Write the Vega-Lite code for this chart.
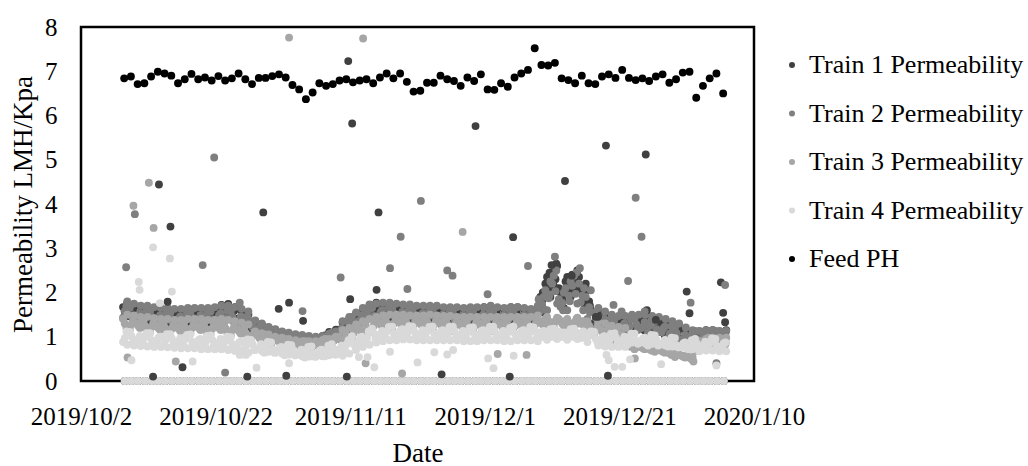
{
"$schema":"https://vega.github.io/schema/vega-lite/v6.json",
"width":673,"height":354,
"autosize":{"type":"none"},
"padding":{"left":81,"top":27,"right":274,"bottom":85},
"background":"white",
"config":{
"view":{"stroke":"#000","strokeWidth":2.5},
"axis":{"domain":false,"ticks":false,"grid":false,"labelFont":"Liberation Serif","labelFontSize":25,"labelColor":"#000","titleFont":"Liberation Serif","titleFontSize":27,"titleFontWeight":"normal","titleColor":"#000"},
"axisX":{"labelPadding":23,"titlePadding":11},
"axisY":{"labelPadding":24,"titlePadding":7},
"legend":{"orient":"none","legendX":698,"legendY":25,"labelFont":"Liberation Serif","labelFontSize":26,"labelColor":"#000","labelLimit":0,"symbolType":"circle","symbolSize":36,"rowPadding":22.5,"labelOffset":4,"padding":0,"symbolStrokeWidth":0}
},
"datasets":{
"perm":[
{"t":"2019-10-08T06:00","a":1.67,"b":1.43,"c":1.40,"d":0.88},{"t":"2019-10-08T18:00","a":1.49,"b":1.69,"c":1.20,"d":1.12},
{"t":"2019-10-09T06:00","a":1.46,"b":1.65,"c":1.16,"d":1.11},{"t":"2019-10-09T18:00","a":1.64,"b":1.40,"c":1.36,"d":0.88},
{"t":"2019-10-10T06:00","a":1.51,"b":1.40,"c":1.30,"d":0.92},{"t":"2019-10-10T18:00","a":1.37,"b":1.53,"c":1.20,"d":1.02},
{"t":"2019-10-11T06:00","a":1.57,"b":1.33,"c":1.35,"d":0.84},{"t":"2019-10-11T18:00","a":1.39,"b":1.59,"c":1.15,"d":1.08},
{"t":"2019-10-12T06:00","a":1.36,"b":1.57,"c":1.10,"d":1.08},{"t":"2019-10-12T18:00","a":1.54,"b":1.32,"c":1.30,"d":0.85},
{"t":"2019-10-13T06:00","a":1.41,"b":1.35,"c":1.25,"d":0.90},{"t":"2019-10-13T18:00","a":1.27,"b":1.48,"c":1.15,"d":1.00},
{"t":"2019-10-14T06:00","a":1.47,"b":1.28,"c":1.30,"d":0.82},{"t":"2019-10-14T18:00","a":1.29,"b":1.54,"c":1.10,"d":1.06},
{"t":"2019-10-15T06:00","a":1.31,"b":1.53,"c":1.06,"d":1.06},{"t":"2019-10-15T18:00","a":1.49,"b":1.28,"c":1.26,"d":0.83},
{"t":"2019-10-16T06:00","a":1.44,"b":1.33,"c":1.23,"d":0.87},{"t":"2019-10-16T18:00","a":1.30,"b":1.46,"c":1.13,"d":0.97},
{"t":"2019-10-17T06:00","a":1.50,"b":1.28,"c":1.30,"d":0.80},{"t":"2019-10-17T18:00","a":1.32,"b":1.54,"c":1.10,"d":1.04},
{"t":"2019-10-18T06:00","a":1.36,"b":1.55,"c":1.08,"d":1.05},{"t":"2019-10-18T18:00","a":1.54,"b":1.30,"c":1.28,"d":0.82},
{"t":"2019-10-19T06:00","a":1.46,"b":1.35,"c":1.25,"d":0.85},{"t":"2019-10-19T18:00","a":1.32,"b":1.48,"c":1.15,"d":0.95},
{"t":"2019-10-20T06:00","a":1.50,"b":1.28,"c":1.28,"d":0.78},{"t":"2019-10-20T18:00","a":1.32,"b":1.54,"c":1.08,"d":1.02},
{"t":"2019-10-21T06:00","a":1.36,"b":1.57,"c":1.06,"d":1.03},{"t":"2019-10-21T18:00","a":1.54,"b":1.32,"c":1.26,"d":0.80},
{"t":"2019-10-22T06:00","a":1.56,"b":1.40,"c":1.25,"d":0.85},{"t":"2019-10-22T18:00","a":1.42,"b":1.53,"c":1.15,"d":0.95},
{"t":"2019-10-23T06:00","a":1.64,"b":1.33,"c":1.28,"d":0.76},{"t":"2019-10-23T18:00","a":1.46,"b":1.59,"c":1.08,"d":1.00},
{"t":"2019-10-24T06:00","a":1.41,"b":1.57,"c":1.03,"d":0.99},{"t":"2019-10-24T18:00","a":1.59,"b":1.32,"c":1.23,"d":0.76},
{"t":"2019-10-25T06:00","a":1.41,"b":1.33,"c":1.17,"d":0.79},{"t":"2019-10-25T18:00","a":1.27,"b":1.46,"c":1.07,"d":0.89},
{"t":"2019-10-26T06:00","a":1.40,"b":1.20,"c":1.18,"d":0.70},{"t":"2019-10-26T18:00","a":1.22,"b":1.46,"c":0.98,"d":0.94},
{"t":"2019-10-27T06:00","a":1.18,"b":1.34,"c":0.90,"d":0.93},{"t":"2019-10-27T18:00","a":1.29,"b":1.19,"c":1.10,"d":0.70},
{"t":"2019-10-28T06:00","a":1.16,"b":1.15,"c":1.03,"d":0.73},{"t":"2019-10-28T18:00","a":1.08,"b":1.23,"c":0.93,"d":0.83},
{"t":"2019-10-29T06:00","a":1.13,"b":1.03,"c":1.05,"d":0.64},{"t":"2019-10-29T18:00","a":1.02,"b":1.18,"c":0.85,"d":0.88},
{"t":"2019-10-30T06:00","a":0.98,"b":1.14,"c":0.78,"d":0.87},{"t":"2019-10-30T18:00","a":1.09,"b":0.99,"c":0.98,"d":0.64},
{"t":"2019-10-31T06:00","a":0.99,"b":0.97,"c":0.93,"d":0.67},{"t":"2019-10-31T18:00","a":0.91,"b":1.05,"c":0.83,"d":0.77},
{"t":"2019-11-01T06:00","a":0.98,"b":0.90,"c":0.95,"d":0.58},{"t":"2019-11-01T18:00","a":0.87,"b":1.05,"c":0.75,"d":0.82},
{"t":"2019-11-02T06:00","a":0.86,"b":1.03,"c":0.70,"d":0.81},{"t":"2019-11-02T18:00","a":0.97,"b":0.88,"c":0.90,"d":0.58},
{"t":"2019-11-03T06:00","a":0.89,"b":0.89,"c":0.85,"d":0.61},{"t":"2019-11-03T18:00","a":0.81,"b":0.97,"c":0.75,"d":0.71},
{"t":"2019-11-04T06:00","a":0.90,"b":0.83,"c":0.90,"d":0.53},{"t":"2019-11-04T18:00","a":0.79,"b":0.98,"c":0.70,"d":0.77},
{"t":"2019-11-05T06:00","a":0.78,"b":0.97,"c":0.68,"d":0.78},{"t":"2019-11-05T18:00","a":0.89,"b":0.82,"c":0.88,"d":0.55},
{"t":"2019-11-06T06:00","a":0.89,"b":0.87,"c":0.87,"d":0.61},{"t":"2019-11-06T18:00","a":0.81,"b":0.95,"c":0.77,"d":0.71},
{"t":"2019-11-07T06:00","a":1.03,"b":0.88,"c":0.95,"d":0.56},{"t":"2019-11-07T18:00","a":0.92,"b":1.03,"c":0.75,"d":0.80},
{"t":"2019-11-08T06:00","a":0.98,"b":1.09,"c":0.78,"d":0.83},{"t":"2019-11-08T18:00","a":1.09,"b":0.94,"c":0.98,"d":0.60},
{"t":"2019-11-09T06:00","a":1.16,"b":1.05,"c":1.00,"d":0.70},{"t":"2019-11-09T18:00","a":1.02,"b":1.18,"c":0.90,"d":0.80},
{"t":"2019-11-10T06:00","a":1.32,"b":1.08,"c":1.10,"d":0.68},{"t":"2019-11-10T18:00","a":1.14,"b":1.34,"c":0.90,"d":0.92},
{"t":"2019-11-11T06:00","a":1.26,"b":1.45,"c":0.96,"d":1.01},{"t":"2019-11-11T18:00","a":1.44,"b":1.20,"c":1.16,"d":0.78},
{"t":"2019-11-12T06:00","a":1.46,"b":1.35,"c":1.20,"d":0.90},{"t":"2019-11-12T18:00","a":1.32,"b":1.48,"c":1.10,"d":1.00},
{"t":"2019-11-13T06:00","a":1.62,"b":1.36,"c":1.30,"d":0.88},{"t":"2019-11-13T18:00","a":1.44,"b":1.62,"c":1.10,"d":1.12},
{"t":"2019-11-14T06:00","a":1.51,"b":1.65,"c":1.13,"d":1.18},{"t":"2019-11-14T18:00","a":1.69,"b":1.40,"c":1.33,"d":0.95},
{"t":"2019-11-15T06:00","a":1.56,"b":1.47,"c":1.33,"d":1.03},{"t":"2019-11-15T18:00","a":1.42,"b":1.60,"c":1.23,"d":1.13},
{"t":"2019-11-16T06:00","a":1.62,"b":1.40,"c":1.40,"d":0.98},{"t":"2019-11-16T18:00","a":1.44,"b":1.66,"c":1.20,"d":1.22},
{"t":"2019-11-17T06:00","a":1.44,"b":1.65,"c":1.18,"d":1.23},{"t":"2019-11-17T18:00","a":1.62,"b":1.40,"c":1.38,"d":1.00},
{"t":"2019-11-18T06:00","a":1.51,"b":1.43,"c":1.35,"d":1.07},{"t":"2019-11-18T18:00","a":1.37,"b":1.56,"c":1.25,"d":1.17},
{"t":"2019-11-19T06:00","a":1.57,"b":1.36,"c":1.38,"d":1.00},{"t":"2019-11-19T18:00","a":1.39,"b":1.62,"c":1.18,"d":1.24},
{"t":"2019-11-20T06:00","a":1.38,"b":1.60,"c":1.16,"d":1.23},{"t":"2019-11-20T18:00","a":1.56,"b":1.35,"c":1.36,"d":1.00},
{"t":"2019-11-21T06:00","a":1.48,"b":1.40,"c":1.33,"d":1.05},{"t":"2019-11-21T18:00","a":1.34,"b":1.53,"c":1.23,"d":1.15},
{"t":"2019-11-22T06:00","a":1.57,"b":1.33,"c":1.40,"d":0.98},{"t":"2019-11-22T18:00","a":1.39,"b":1.59,"c":1.20,"d":1.22},
{"t":"2019-11-23T06:00","a":1.36,"b":1.60,"c":1.16,"d":1.23},{"t":"2019-11-23T18:00","a":1.54,"b":1.35,"c":1.36,"d":1.00},
{"t":"2019-11-24T06:00","a":1.46,"b":1.37,"c":1.32,"d":1.05},{"t":"2019-11-24T18:00","a":1.32,"b":1.50,"c":1.22,"d":1.15},
{"t":"2019-11-25T06:00","a":1.54,"b":1.30,"c":1.37,"d":0.98},{"t":"2019-11-25T18:00","a":1.36,"b":1.56,"c":1.17,"d":1.22},
{"t":"2019-11-26T06:00","a":1.36,"b":1.57,"c":1.13,"d":1.23},{"t":"2019-11-26T18:00","a":1.54,"b":1.32,"c":1.33,"d":1.00},
{"t":"2019-11-27T06:00","a":1.46,"b":1.35,"c":1.30,"d":1.03},{"t":"2019-11-27T18:00","a":1.32,"b":1.48,"c":1.20,"d":1.13},
{"t":"2019-11-28T06:00","a":1.50,"b":1.30,"c":1.35,"d":0.96},{"t":"2019-11-28T18:00","a":1.32,"b":1.56,"c":1.15,"d":1.20},
{"t":"2019-11-29T06:00","a":1.36,"b":1.57,"c":1.13,"d":1.21},{"t":"2019-11-29T18:00","a":1.54,"b":1.32,"c":1.33,"d":0.98},
{"t":"2019-11-30T06:00","a":1.51,"b":1.37,"c":1.30,"d":1.05},{"t":"2019-11-30T18:00","a":1.37,"b":1.50,"c":1.20,"d":1.15},
{"t":"2019-12-01T06:00","a":1.57,"b":1.33,"c":1.35,"d":0.98},{"t":"2019-12-01T18:00","a":1.39,"b":1.59,"c":1.15,"d":1.22},
{"t":"2019-12-02T06:00","a":1.38,"b":1.57,"c":1.13,"d":1.23},{"t":"2019-12-02T18:00","a":1.56,"b":1.32,"c":1.33,"d":1.00},
{"t":"2019-12-03T06:00","a":1.46,"b":1.35,"c":1.30,"d":1.03},{"t":"2019-12-03T18:00","a":1.32,"b":1.48,"c":1.20,"d":1.13},
{"t":"2019-12-04T06:00","a":1.57,"b":1.30,"c":1.35,"d":0.96},{"t":"2019-12-04T18:00","a":1.39,"b":1.56,"c":1.15,"d":1.20},
{"t":"2019-12-05T06:00","a":1.41,"b":1.57,"c":1.13,"d":1.23},{"t":"2019-12-05T18:00","a":1.59,"b":1.32,"c":1.33,"d":1.00},
{"t":"2019-12-06T06:00","a":1.46,"b":1.35,"c":1.30,"d":1.05},{"t":"2019-12-06T18:00","a":1.32,"b":1.48,"c":1.20,"d":1.15},
{"t":"2019-12-07T06:00","a":1.47,"b":1.26,"c":1.35,"d":0.98},{"t":"2019-12-07T18:00","a":1.29,"b":1.52,"c":1.15,"d":1.22},
{"t":"2019-12-08T06:00","a":1.41,"b":1.60,"c":1.16,"d":1.21},{"t":"2019-12-08T18:00","a":1.59,"b":1.35,"c":1.36,"d":0.98},
{"t":"2019-12-09T06:00","a":1.90,"b":1.58,"c":1.35,"d":1.03},{"t":"2019-12-09T18:00","a":1.55,"b":1.90,"c":1.25,"d":1.13},
{"t":"2019-12-10T06:00","a":2.35,"b":1.60,"c":1.45,"d":0.93},{"t":"2019-12-10T18:00","a":1.90,"b":2.25,"c":1.25,"d":1.17},
{"t":"2019-12-11T06:00","a":2.15,"b":2.38,"c":1.23,"d":1.18},{"t":"2019-12-11T18:00","a":2.60,"b":1.75,"c":1.43,"d":0.95},
{"t":"2019-12-12T06:00","a":2.00,"b":1.68,"c":1.35,"d":1.00},{"t":"2019-12-12T18:00","a":1.65,"b":2.00,"c":1.25,"d":1.10},
{"t":"2019-12-13T06:00","a":2.35,"b":1.60,"c":1.40,"d":0.93},{"t":"2019-12-13T18:00","a":1.90,"b":2.25,"c":1.20,"d":1.17},
{"t":"2019-12-14T06:00","a":2.05,"b":2.38,"c":1.23,"d":1.18},{"t":"2019-12-14T18:00","a":2.50,"b":1.75,"c":1.43,"d":0.95},
{"t":"2019-12-15T06:00","a":2.10,"b":1.78,"c":1.35,"d":0.97},{"t":"2019-12-15T18:00","a":1.75,"b":2.10,"c":1.25,"d":1.07},
{"t":"2019-12-16T06:00","a":2.05,"b":1.40,"c":1.35,"d":0.88},{"t":"2019-12-16T18:00","a":1.60,"b":2.05,"c":1.15,"d":1.12},
{"t":"2019-12-17T06:00","a":1.31,"b":1.55,"c":1.03,"d":1.11},{"t":"2019-12-17T18:00","a":1.49,"b":1.30,"c":1.23,"d":0.88},
{"t":"2019-12-18T06:00","a":1.36,"b":1.27,"c":1.15,"d":0.91},{"t":"2019-12-18T18:00","a":1.22,"b":1.40,"c":1.05,"d":1.01},
{"t":"2019-12-19T06:00","a":1.32,"b":1.13,"c":1.15,"d":0.83},{"t":"2019-12-19T18:00","a":1.14,"b":1.39,"c":0.95,"d":1.07},
{"t":"2019-12-20T06:00","a":1.16,"b":1.37,"c":0.90,"d":1.08},{"t":"2019-12-20T18:00","a":1.34,"b":1.12,"c":1.10,"d":0.85},
{"t":"2019-12-21T06:00","a":1.24,"b":1.17,"c":1.05,"d":0.90},{"t":"2019-12-21T18:00","a":1.10,"b":1.30,"c":0.95,"d":1.00},
{"t":"2019-12-22T06:00","a":1.32,"b":1.13,"c":0.83,"d":0.83},{"t":"2019-12-22T18:00","a":1.14,"b":1.39,"c":0.77,"d":1.07},
{"t":"2019-12-23T06:00","a":1.16,"b":1.40,"c":0.72,"d":1.07},{"t":"2019-12-23T18:00","a":1.34,"b":1.15,"c":0.78,"d":0.84},
{"t":"2019-12-24T06:00","a":1.28,"b":1.20,"c":0.76,"d":0.88},{"t":"2019-12-24T18:00","a":1.14,"b":1.33,"c":0.72,"d":0.98},
{"t":"2019-12-25T06:00","a":1.32,"b":1.10,"c":0.75,"d":0.80},{"t":"2019-12-25T18:00","a":1.14,"b":1.36,"c":0.69,"d":1.04},
{"t":"2019-12-26T06:00","a":1.11,"b":1.35,"c":0.66,"d":1.03},{"t":"2019-12-26T18:00","a":1.29,"b":1.10,"c":0.72,"d":0.80},
{"t":"2019-12-27T06:00","a":1.16,"b":1.10,"c":0.68,"d":0.83},{"t":"2019-12-27T18:00","a":1.02,"b":1.23,"c":0.64,"d":0.93},
{"t":"2019-12-28T06:00","a":1.17,"b":0.98,"c":0.65,"d":0.78},{"t":"2019-12-28T18:00","a":0.99,"b":1.24,"c":0.59,"d":0.98},
{"t":"2019-12-29T06:00","a":0.96,"b":1.20,"c":0.54,"d":0.97},{"t":"2019-12-29T18:00","a":1.14,"b":0.95,"c":0.60,"d":0.76},
{"t":"2019-12-30T06:00","a":0.96,"b":0.91,"c":0.57,"d":0.77},{"t":"2019-12-30T18:00","a":0.82,"b":1.04,"c":0.53,"d":0.87},
{"t":"2019-12-31T06:00","a":0.97,"b":0.78,"c":0.55,"d":0.72},{"t":"2019-12-31T18:00","a":0.79,"b":1.04,"c":0.49,"d":0.92},
{"t":"2020-01-01T06:00","a":0.88,"b":1.13,"c":0.68,"d":0.95},{"t":"2020-01-01T18:00","a":1.06,"b":0.88,"c":0.88,"d":0.72},
{"t":"2020-01-02T06:00","a":1.01,"b":0.95,"c":0.90,"d":0.79},{"t":"2020-01-02T18:00","a":0.87,"b":1.08,"c":0.80,"d":0.89},
{"t":"2020-01-03T06:00","a":1.07,"b":0.88,"c":0.98,"d":0.72},{"t":"2020-01-03T18:00","a":0.89,"b":1.14,"c":0.78,"d":0.96},
{"t":"2020-01-04T06:00","a":0.88,"b":1.13,"c":0.76,"d":0.95},{"t":"2020-01-04T18:00","a":1.06,"b":0.88,"c":0.96,"d":0.72},
{"t":"2020-01-05T06:00","a":1.01,"b":0.93,"c":0.93,"d":0.77},{"t":"2020-01-05T18:00","a":0.87,"b":1.06,"c":0.83,"d":0.87},
{"t":"2019-10-08T12:00","a":1.57,"b":1.58,"c":1.30,"d":0.97},{"t":"2019-10-09T12:00","a":1.52,"b":1.47,"c":1.28,"d":1.01},{"t":"2019-10-10T12:00","a":1.47,"b":1.48,"c":1.25,"d":0.94},{"t":"2019-10-11T12:00","a":1.47,"b":1.42,"c":1.25,"d":0.99},{"t":"2019-10-12T12:00","a":1.42,"b":1.45,"c":1.22,"d":0.92},
{"t":"2019-10-13T12:00","a":1.37,"b":1.37,"c":1.20,"d":0.98},{"t":"2019-10-14T12:00","a":1.37,"b":1.43,"c":1.20,"d":0.91},{"t":"2019-10-15T12:00","a":1.37,"b":1.35,"c":1.18,"d":0.96},{"t":"2019-10-16T12:00","a":1.40,"b":1.41,"c":1.18,"d":0.89},{"t":"2019-10-17T12:00","a":1.40,"b":1.37,"c":1.20,"d":0.95},
{"t":"2019-10-18T12:00","a":1.42,"b":1.43,"c":1.20,"d":0.89},{"t":"2019-10-19T12:00","a":1.42,"b":1.37,"c":1.20,"d":0.93},{"t":"2019-10-20T12:00","a":1.40,"b":1.43,"c":1.18,"d":0.87},{"t":"2019-10-21T12:00","a":1.42,"b":1.39,"c":1.18,"d":0.93},{"t":"2019-10-22T12:00","a":1.52,"b":1.48,"c":1.20,"d":0.87},
{"t":"2019-10-23T12:00","a":1.54,"b":1.42,"c":1.18,"d":0.91},{"t":"2019-10-24T12:00","a":1.47,"b":1.45,"c":1.15,"d":0.83},{"t":"2019-10-25T12:00","a":1.37,"b":1.35,"c":1.12,"d":0.87},{"t":"2019-10-26T12:00","a":1.30,"b":1.35,"c":1.08,"d":0.79},{"t":"2019-10-27T12:00","a":1.22,"b":1.22,"c":1.02,"d":0.83},
{"t":"2019-10-28T12:00","a":1.14,"b":1.21,"c":0.98,"d":0.75},{"t":"2019-10-29T12:00","a":1.07,"b":1.07,"c":0.95,"d":0.79},{"t":"2019-10-30T12:00","a":1.02,"b":1.08,"c":0.90,"d":0.71},{"t":"2019-10-31T12:00","a":0.97,"b":0.97,"c":0.88,"d":0.75},{"t":"2019-11-01T12:00","a":0.92,"b":1.00,"c":0.85,"d":0.67},
{"t":"2019-11-02T12:00","a":0.90,"b":0.91,"c":0.82,"d":0.71},{"t":"2019-11-03T12:00","a":0.87,"b":0.95,"c":0.80,"d":0.63},{"t":"2019-11-04T12:00","a":0.84,"b":0.87,"c":0.80,"d":0.68},{"t":"2019-11-05T12:00","a":0.82,"b":0.91,"c":0.80,"d":0.62},{"t":"2019-11-06T12:00","a":0.87,"b":0.87,"c":0.82,"d":0.69},
{"t":"2019-11-07T12:00","a":0.97,"b":0.98,"c":0.85,"d":0.65},{"t":"2019-11-08T12:00","a":1.02,"b":0.97,"c":0.90,"d":0.73},{"t":"2019-11-09T12:00","a":1.12,"b":1.13,"c":0.95,"d":0.72},{"t":"2019-11-10T12:00","a":1.22,"b":1.17,"c":1.00,"d":0.83},{"t":"2019-11-11T12:00","a":1.32,"b":1.33,"c":1.08,"d":0.85},
{"t":"2019-11-12T12:00","a":1.42,"b":1.37,"c":1.15,"d":0.98},{"t":"2019-11-13T12:00","a":1.52,"b":1.51,"c":1.20,"d":0.97},{"t":"2019-11-14T12:00","a":1.57,"b":1.47,"c":1.25,"d":1.08},{"t":"2019-11-15T12:00","a":1.52,"b":1.55,"c":1.28,"d":1.05},{"t":"2019-11-16T12:00","a":1.52,"b":1.49,"c":1.30,"d":1.13},
{"t":"2019-11-17T12:00","a":1.50,"b":1.53,"c":1.30,"d":1.07},{"t":"2019-11-18T12:00","a":1.47,"b":1.45,"c":1.30,"d":1.15},{"t":"2019-11-19T12:00","a":1.47,"b":1.51,"c":1.28,"d":1.09},{"t":"2019-11-20T12:00","a":1.44,"b":1.42,"c":1.28,"d":1.13},{"t":"2019-11-21T12:00","a":1.44,"b":1.48,"c":1.28,"d":1.07},
{"t":"2019-11-22T12:00","a":1.47,"b":1.42,"c":1.30,"d":1.13},{"t":"2019-11-23T12:00","a":1.42,"b":1.48,"c":1.28,"d":1.07},{"t":"2019-11-24T12:00","a":1.42,"b":1.39,"c":1.27,"d":1.13},{"t":"2019-11-25T12:00","a":1.44,"b":1.45,"c":1.27,"d":1.07},{"t":"2019-11-26T12:00","a":1.42,"b":1.39,"c":1.25,"d":1.13},
{"t":"2019-11-27T12:00","a":1.42,"b":1.43,"c":1.25,"d":1.05},{"t":"2019-11-28T12:00","a":1.40,"b":1.39,"c":1.25,"d":1.11},{"t":"2019-11-29T12:00","a":1.42,"b":1.45,"c":1.25,"d":1.05},{"t":"2019-11-30T12:00","a":1.47,"b":1.39,"c":1.25,"d":1.13},{"t":"2019-12-01T12:00","a":1.47,"b":1.48,"c":1.25,"d":1.07},
{"t":"2019-12-02T12:00","a":1.44,"b":1.39,"c":1.25,"d":1.13},{"t":"2019-12-03T12:00","a":1.42,"b":1.43,"c":1.25,"d":1.05},{"t":"2019-12-04T12:00","a":1.47,"b":1.39,"c":1.25,"d":1.11},{"t":"2019-12-05T12:00","a":1.47,"b":1.45,"c":1.25,"d":1.07},{"t":"2019-12-06T12:00","a":1.42,"b":1.37,"c":1.25,"d":1.13},
{"t":"2019-12-07T12:00","a":1.37,"b":1.41,"c":1.25,"d":1.07},{"t":"2019-12-08T12:00","a":1.47,"b":1.42,"c":1.28,"d":1.11},{"t":"2019-12-09T12:00","a":1.80,"b":1.73,"c":1.30,"d":1.05},{"t":"2019-12-10T12:00","a":2.10,"b":1.87,"c":1.35,"d":1.08},{"t":"2019-12-11T12:00","a":2.30,"b":2.03,"c":1.35,"d":1.02},
{"t":"2019-12-12T12:00","a":1.90,"b":1.77,"c":1.30,"d":1.08},{"t":"2019-12-13T12:00","a":2.10,"b":1.93,"c":1.30,"d":1.02},{"t":"2019-12-14T12:00","a":2.20,"b":1.97,"c":1.35,"d":1.08},{"t":"2019-12-15T12:00","a":2.00,"b":1.93,"c":1.30,"d":0.99},{"t":"2019-12-16T12:00","a":1.80,"b":1.67,"c":1.25,"d":1.03},
{"t":"2019-12-17T12:00","a":1.37,"b":1.43,"c":1.15,"d":0.95},{"t":"2019-12-18T12:00","a":1.32,"b":1.29,"c":1.10,"d":0.99},{"t":"2019-12-19T12:00","a":1.22,"b":1.28,"c":1.05,"d":0.92},{"t":"2019-12-20T12:00","a":1.22,"b":1.19,"c":1.02,"d":0.98},{"t":"2019-12-21T12:00","a":1.20,"b":1.25,"c":1.00,"d":0.92},
{"t":"2019-12-22T12:00","a":1.22,"b":1.22,"c":0.80,"d":0.98},{"t":"2019-12-23T12:00","a":1.22,"b":1.28,"c":0.76,"d":0.91},{"t":"2019-12-24T12:00","a":1.24,"b":1.22,"c":0.74,"d":0.96},{"t":"2019-12-25T12:00","a":1.22,"b":1.25,"c":0.72,"d":0.89},{"t":"2019-12-26T12:00","a":1.17,"b":1.17,"c":0.70,"d":0.93},
{"t":"2019-12-27T12:00","a":1.12,"b":1.18,"c":0.66,"d":0.85},{"t":"2019-12-28T12:00","a":1.07,"b":1.07,"c":0.62,"d":0.89},{"t":"2019-12-29T12:00","a":1.02,"b":1.08,"c":0.58,"d":0.81},{"t":"2019-12-30T12:00","a":0.92,"b":0.93,"c":0.55,"d":0.85},{"t":"2019-12-31T12:00","a":0.87,"b":0.93,"c":0.52,"d":0.77},
{"t":"2020-01-01T12:00","a":0.94,"b":0.95,"c":0.80,"d":0.85},{"t":"2020-01-02T12:00","a":0.97,"b":1.03,"c":0.85,"d":0.81},{"t":"2020-01-03T12:00","a":0.97,"b":0.97,"c":0.88,"d":0.87},{"t":"2020-01-04T12:00","a":0.94,"b":1.01,"c":0.88,"d":0.79},{"t":"2020-01-05T12:00","a":0.97,"b":0.95,"c":0.88,"d":0.85},
{"t":"2019-10-08T21:00","a":1.77,"b":1.80,"c":1.50,"d":0.82},{"t":"2019-10-09T21:00","a":1.72,"b":1.75,"c":1.48,"d":0.80},{"t":"2019-10-10T21:00","a":1.67,"b":1.70,"c":1.45,"d":0.79},{"t":"2019-10-11T21:00","a":1.67,"b":1.70,"c":1.45,"d":0.78},{"t":"2019-10-12T21:00","a":1.62,"b":1.67,"c":1.42,"d":0.77},
{"t":"2019-10-13T21:00","a":1.57,"b":1.65,"c":1.40,"d":0.77},{"t":"2019-10-14T21:00","a":1.57,"b":1.65,"c":1.40,"d":0.76},{"t":"2019-10-15T21:00","a":1.57,"b":1.63,"c":1.38,"d":0.75},{"t":"2019-10-16T21:00","a":1.60,"b":1.63,"c":1.38,"d":0.74},{"t":"2019-10-17T21:00","a":1.60,"b":1.65,"c":1.40,"d":0.74},
{"t":"2019-10-18T21:00","a":1.62,"b":1.65,"c":1.40,"d":0.74},{"t":"2019-10-19T21:00","a":1.62,"b":1.65,"c":1.40,"d":0.72},{"t":"2019-10-20T21:00","a":1.60,"b":1.65,"c":1.38,"d":0.72},{"t":"2019-10-21T21:00","a":1.62,"b":1.67,"c":1.38,"d":0.72},{"t":"2019-10-22T21:00","a":1.72,"b":1.70,"c":1.40,"d":0.72},
{"t":"2019-10-23T21:00","a":1.74,"b":1.70,"c":1.38,"d":0.70},{"t":"2019-10-24T21:00","a":1.67,"b":1.67,"c":1.35,"d":0.68},{"t":"2019-10-25T21:00","a":1.57,"b":1.63,"c":1.32,"d":0.66},{"t":"2019-10-26T21:00","a":1.50,"b":1.57,"c":1.28,"d":0.64},{"t":"2019-10-27T21:00","a":1.36,"b":1.37,"c":1.12,"d":0.70},
{"t":"2019-10-28T21:00","a":1.28,"b":1.30,"c":1.08,"d":0.68},{"t":"2019-10-29T21:00","a":1.21,"b":1.22,"c":1.05,"d":0.66},{"t":"2019-10-30T21:00","a":1.16,"b":1.17,"c":1.00,"d":0.64},{"t":"2019-10-31T21:00","a":1.11,"b":1.12,"c":0.98,"d":0.62},{"t":"2019-11-01T21:00","a":1.06,"b":1.09,"c":0.95,"d":0.60},
{"t":"2019-11-02T21:00","a":1.04,"b":1.06,"c":0.92,"d":0.58},{"t":"2019-11-03T21:00","a":1.01,"b":1.04,"c":0.90,"d":0.56},{"t":"2019-11-04T21:00","a":0.98,"b":1.02,"c":0.90,"d":0.55},{"t":"2019-11-05T21:00","a":0.96,"b":1.00,"c":0.90,"d":0.55},{"t":"2019-11-06T21:00","a":1.01,"b":1.02,"c":0.92,"d":0.56},
{"t":"2019-11-07T21:00","a":1.11,"b":1.07,"c":0.95,"d":0.58},{"t":"2019-11-08T21:00","a":1.16,"b":1.12,"c":1.00,"d":0.60},{"t":"2019-11-09T21:00","a":1.32,"b":1.35,"c":1.15,"d":0.57},{"t":"2019-11-10T21:00","a":1.42,"b":1.45,"c":1.20,"d":0.62},{"t":"2019-11-11T21:00","a":1.52,"b":1.55,"c":1.28,"d":0.70},
{"t":"2019-11-12T21:00","a":1.62,"b":1.65,"c":1.35,"d":0.77},{"t":"2019-11-13T21:00","a":1.72,"b":1.73,"c":1.40,"d":0.82},{"t":"2019-11-14T21:00","a":1.77,"b":1.75,"c":1.45,"d":0.87},{"t":"2019-11-15T21:00","a":1.72,"b":1.77,"c":1.48,"d":0.90},{"t":"2019-11-16T21:00","a":1.72,"b":1.77,"c":1.50,"d":0.92},
{"t":"2019-11-17T21:00","a":1.70,"b":1.75,"c":1.50,"d":0.92},{"t":"2019-11-18T21:00","a":1.67,"b":1.73,"c":1.50,"d":0.94},{"t":"2019-11-19T21:00","a":1.67,"b":1.73,"c":1.48,"d":0.94},{"t":"2019-11-20T21:00","a":1.64,"b":1.70,"c":1.48,"d":0.92},{"t":"2019-11-21T21:00","a":1.64,"b":1.70,"c":1.48,"d":0.92},
{"t":"2019-11-22T21:00","a":1.67,"b":1.70,"c":1.50,"d":0.92},{"t":"2019-11-23T21:00","a":1.62,"b":1.70,"c":1.48,"d":0.92},{"t":"2019-11-24T21:00","a":1.62,"b":1.67,"c":1.47,"d":0.92},{"t":"2019-11-25T21:00","a":1.64,"b":1.67,"c":1.47,"d":0.92},{"t":"2019-11-26T21:00","a":1.62,"b":1.67,"c":1.45,"d":0.92},
{"t":"2019-11-27T21:00","a":1.62,"b":1.65,"c":1.45,"d":0.90},{"t":"2019-11-28T21:00","a":1.60,"b":1.67,"c":1.45,"d":0.90},{"t":"2019-11-29T21:00","a":1.62,"b":1.67,"c":1.45,"d":0.90},{"t":"2019-11-30T21:00","a":1.67,"b":1.67,"c":1.45,"d":0.92},{"t":"2019-12-01T21:00","a":1.67,"b":1.70,"c":1.45,"d":0.92},
{"t":"2019-12-02T21:00","a":1.64,"b":1.67,"c":1.45,"d":0.92},{"t":"2019-12-03T21:00","a":1.62,"b":1.65,"c":1.45,"d":0.90},{"t":"2019-12-04T21:00","a":1.67,"b":1.67,"c":1.45,"d":0.90},{"t":"2019-12-05T21:00","a":1.67,"b":1.67,"c":1.45,"d":0.92},{"t":"2019-12-06T21:00","a":1.62,"b":1.65,"c":1.45,"d":0.92},
{"t":"2019-12-07T21:00","a":1.57,"b":1.63,"c":1.45,"d":0.92},{"t":"2019-12-08T21:00","a":1.67,"b":1.70,"c":1.48,"d":0.90},
{"t":"2019-12-09T00:00","a":1.70,"b":1.85,"c":1.32,"d":1.10},{"t":"2019-12-09T15:00","a":2.00,"b":1.65,"c":1.28,"d":1.00},{"t":"2019-12-10T00:00","a":2.20,"b":2.05,"c":1.40,"d":1.05},{"t":"2019-12-10T15:00","a":2.45,"b":1.95,"c":1.30,"d":1.12},
{"t":"2019-12-11T00:00","a":2.45,"b":2.20,"c":1.30,"d":1.00},{"t":"2019-12-11T15:00","a":2.65,"b":2.50,"c":1.38,"d":1.10},{"t":"2019-12-12T00:00","a":2.10,"b":1.85,"c":1.40,"d":1.12},{"t":"2019-12-12T15:00","a":1.80,"b":1.60,"c":1.28,"d":1.00},
{"t":"2019-12-13T00:00","a":2.25,"b":2.10,"c":1.35,"d":1.05},{"t":"2019-12-13T15:00","a":2.05,"b":1.80,"c":1.30,"d":1.12},{"t":"2019-12-14T00:00","a":2.40,"b":2.15,"c":1.30,"d":1.00},{"t":"2019-12-14T15:00","a":2.25,"b":2.45,"c":1.40,"d":1.10},
{"t":"2019-12-15T00:00","a":2.35,"b":2.20,"c":1.30,"d":1.05},{"t":"2019-12-15T15:00","a":1.95,"b":1.60,"c":1.35,"d":1.12},{"t":"2019-12-16T00:00","a":2.20,"b":1.90,"c":1.25,"d":1.00},{"t":"2019-12-16T15:00","a":1.70,"b":1.55,"c":1.20,"d":1.08},
{"t":"2019-12-17T21:00","a":1.57,"b":1.65,"c":1.35,"d":0.80},{"t":"2019-12-18T21:00","a":1.52,"b":1.57,"c":1.30,"d":0.78},{"t":"2019-12-19T21:00","a":1.42,"b":1.50,"c":1.25,"d":0.77},{"t":"2019-12-20T21:00","a":1.42,"b":1.47,"c":1.22,"d":0.77},{"t":"2019-12-21T21:00","a":1.40,"b":1.47,"c":1.20,"d":0.77},
{"t":"2019-12-22T21:00","a":1.42,"b":1.50,"c":0.82,"d":0.87},{"t":"2019-12-23T21:00","a":1.42,"b":1.50,"c":0.78,"d":0.86},{"t":"2019-12-24T21:00","a":1.44,"b":1.50,"c":0.76,"d":0.85},{"t":"2019-12-25T21:00","a":1.42,"b":1.47,"c":0.74,"d":0.84},{"t":"2019-12-26T21:00","a":1.37,"b":1.45,"c":0.72,"d":0.82},
{"t":"2019-12-27T21:00","a":1.32,"b":1.40,"c":0.68,"d":0.80},{"t":"2019-12-28T21:00","a":1.27,"b":1.35,"c":0.64,"d":0.78},{"t":"2019-12-29T21:00","a":1.22,"b":1.30,"c":0.60,"d":0.76},{"t":"2019-12-30T21:00","a":1.12,"b":1.21,"c":0.57,"d":0.74},{"t":"2019-12-31T21:00","a":1.07,"b":1.15,"c":0.54,"d":0.72},
{"t":"2020-01-01T21:00","a":1.12,"b":1.13,"c":0.90,"d":0.67},{"t":"2020-01-02T21:00","a":1.15,"b":1.15,"c":0.95,"d":0.69},{"t":"2020-01-03T21:00","a":1.15,"b":1.15,"c":0.98,"d":0.69},{"t":"2020-01-04T21:00","a":1.12,"b":1.13,"c":0.98,"d":0.67},{"t":"2020-01-05T21:00","a":1.15,"b":1.13,"c":0.98,"d":0.67},
{"t":"2019-10-08T12:00","a":0,"b":0,"c":0,"d":0},{"t":"2019-10-09T12:00","a":0,"b":0,"c":0,"d":0},{"t":"2019-10-10T12:00","a":0,"b":0,"c":0,"d":0},{"t":"2019-10-11T12:00","a":0,"b":0,"c":0,"d":0},{"t":"2019-10-12T12:00","a":0,"b":0,"c":0,"d":0},{"t":"2019-10-13T12:00","a":0,"b":0,"c":0,"d":0},{"t":"2019-10-14T12:00","a":0,"b":0,"c":0,"d":0},{"t":"2019-10-15T12:00","a":0,"b":0,"c":0,"d":0},{"t":"2019-10-16T12:00","a":0,"b":0,"c":0,"d":0},{"t":"2019-10-17T12:00","a":0,"b":0,"c":0,"d":0},
{"t":"2019-10-18T12:00","a":0,"b":0,"c":0,"d":0},{"t":"2019-10-19T12:00","a":0,"b":0,"c":0,"d":0},{"t":"2019-10-20T12:00","a":0,"b":0,"c":0,"d":0},{"t":"2019-10-21T12:00","a":0,"b":0,"c":0,"d":0},{"t":"2019-10-22T12:00","a":0,"b":0,"c":0,"d":0},{"t":"2019-10-23T12:00","a":0,"b":0,"c":0,"d":0},{"t":"2019-10-24T12:00","a":0,"b":0,"c":0,"d":0},{"t":"2019-10-25T12:00","a":0,"b":0,"c":0,"d":0},{"t":"2019-10-26T12:00","a":0,"b":0,"c":0,"d":0},{"t":"2019-10-27T12:00","a":0,"b":0,"c":0,"d":0},
{"t":"2019-10-28T12:00","a":0,"b":0,"c":0,"d":0},{"t":"2019-10-29T12:00","a":0,"b":0,"c":0,"d":0},{"t":"2019-10-30T12:00","a":0,"b":0,"c":0,"d":0},{"t":"2019-10-31T12:00","a":0,"b":0,"c":0,"d":0},{"t":"2019-11-01T12:00","a":0,"b":0,"c":0,"d":0},{"t":"2019-11-02T12:00","a":0,"b":0,"c":0,"d":0},{"t":"2019-11-03T12:00","a":0,"b":0,"c":0,"d":0},{"t":"2019-11-04T12:00","a":0,"b":0,"c":0,"d":0},{"t":"2019-11-05T12:00","a":0,"b":0,"c":0,"d":0},{"t":"2019-11-06T12:00","a":0,"b":0,"c":0,"d":0},
{"t":"2019-11-07T12:00","a":0,"b":0,"c":0,"d":0},{"t":"2019-11-08T12:00","a":0,"b":0,"c":0,"d":0},{"t":"2019-11-09T12:00","a":0,"b":0,"c":0,"d":0},{"t":"2019-11-10T12:00","a":0,"b":0,"c":0,"d":0},{"t":"2019-11-11T12:00","a":0,"b":0,"c":0,"d":0},{"t":"2019-11-12T12:00","a":0,"b":0,"c":0,"d":0},{"t":"2019-11-13T12:00","a":0,"b":0,"c":0,"d":0},{"t":"2019-11-14T12:00","a":0,"b":0,"c":0,"d":0},{"t":"2019-11-15T12:00","a":0,"b":0,"c":0,"d":0},{"t":"2019-11-16T12:00","a":0,"b":0,"c":0,"d":0},
{"t":"2019-11-17T12:00","a":0,"b":0,"c":0,"d":0},{"t":"2019-11-18T12:00","a":0,"b":0,"c":0,"d":0},{"t":"2019-11-19T12:00","a":0,"b":0,"c":0,"d":0},{"t":"2019-11-20T12:00","a":0,"b":0,"c":0,"d":0},{"t":"2019-11-21T12:00","a":0,"b":0,"c":0,"d":0},{"t":"2019-11-22T12:00","a":0,"b":0,"c":0,"d":0},{"t":"2019-11-23T12:00","a":0,"b":0,"c":0,"d":0},{"t":"2019-11-24T12:00","a":0,"b":0,"c":0,"d":0},{"t":"2019-11-25T12:00","a":0,"b":0,"c":0,"d":0},{"t":"2019-11-26T12:00","a":0,"b":0,"c":0,"d":0},
{"t":"2019-11-27T12:00","a":0,"b":0,"c":0,"d":0},{"t":"2019-11-28T12:00","a":0,"b":0,"c":0,"d":0},{"t":"2019-11-29T12:00","a":0,"b":0,"c":0,"d":0},{"t":"2019-11-30T12:00","a":0,"b":0,"c":0,"d":0},{"t":"2019-12-01T12:00","a":0,"b":0,"c":0,"d":0},{"t":"2019-12-02T12:00","a":0,"b":0,"c":0,"d":0},{"t":"2019-12-03T12:00","a":0,"b":0,"c":0,"d":0},{"t":"2019-12-04T12:00","a":0,"b":0,"c":0,"d":0},{"t":"2019-12-05T12:00","a":0,"b":0,"c":0,"d":0},{"t":"2019-12-06T12:00","a":0,"b":0,"c":0,"d":0},
{"t":"2019-12-07T12:00","a":0,"b":0,"c":0,"d":0},{"t":"2019-12-08T12:00","a":0,"b":0,"c":0,"d":0},{"t":"2019-12-09T12:00","a":0,"b":0,"c":0,"d":0},{"t":"2019-12-10T12:00","a":0,"b":0,"c":0,"d":0},{"t":"2019-12-11T12:00","a":0,"b":0,"c":0,"d":0},{"t":"2019-12-12T12:00","a":0,"b":0,"c":0,"d":0},{"t":"2019-12-13T12:00","a":0,"b":0,"c":0,"d":0},{"t":"2019-12-14T12:00","a":0,"b":0,"c":0,"d":0},{"t":"2019-12-15T12:00","a":0,"b":0,"c":0,"d":0},{"t":"2019-12-16T12:00","a":0,"b":0,"c":0,"d":0},
{"t":"2019-12-17T12:00","a":0,"b":0,"c":0,"d":0},{"t":"2019-12-18T12:00","a":0,"b":0,"c":0,"d":0},{"t":"2019-12-19T12:00","a":0,"b":0,"c":0,"d":0},{"t":"2019-12-20T12:00","a":0,"b":0,"c":0,"d":0},{"t":"2019-12-21T12:00","a":0,"b":0,"c":0,"d":0},{"t":"2019-12-22T12:00","a":0,"b":0,"c":0,"d":0},{"t":"2019-12-23T12:00","a":0,"b":0,"c":0,"d":0},{"t":"2019-12-24T12:00","a":0,"b":0,"c":0,"d":0},{"t":"2019-12-25T12:00","a":0,"b":0,"c":0,"d":0},{"t":"2019-12-26T12:00","a":0,"b":0,"c":0,"d":0},
{"t":"2019-12-27T12:00","a":0,"b":0,"c":0,"d":0},{"t":"2019-12-28T12:00","a":0,"b":0,"c":0,"d":0},{"t":"2019-12-29T12:00","a":0,"b":0,"c":0,"d":0},{"t":"2019-12-30T12:00","a":0,"b":0,"c":0,"d":0},{"t":"2019-12-31T12:00","a":0,"b":0,"c":0,"d":0},{"t":"2020-01-01T12:00","a":0,"b":0,"c":0,"d":0},{"t":"2020-01-02T12:00","a":0,"b":0,"c":0,"d":0},{"t":"2020-01-03T12:00","a":0,"b":0,"c":0,"d":0},{"t":"2020-01-04T12:00","a":0,"b":0,"c":0,"d":0},{"t":"2020-01-05T12:00","a":0,"b":0,"c":0,"d":0}
],
"out":[
{"t":"2019-11-10T17:00","s":"a","v":7.23},{"t":"2019-11-11T07:00","s":"a","v":5.82},{"t":"2019-10-13T14:00","s":"a","v":4.44},{"t":"2019-10-15T07:00","s":"a","v":3.49},{"t":"2019-10-29T02:00","s":"a","v":3.81},{"t":"2019-11-15T05:00","s":"a","v":3.81},{"t":"2019-11-29T15:00","s":"a","v":5.76},{"t":"2019-12-19T00:00","s":"a","v":5.32},{"t":"2019-12-24T22:00","s":"a","v":5.12},{"t":"2019-12-12T22:00","s":"a","v":4.52},{"t":"2019-12-05T05:00","s":"a","v":3.25},
{"t":"2019-10-14T21:00","s":"a","v":1.79},{"t":"2019-10-31T09:00","s":"a","v":1.63},{"t":"2019-11-01T22:00","s":"a","v":1.77},{"t":"2019-11-04T00:00","s":"a","v":1.36},{"t":"2019-11-14T22:00","s":"a","v":2.06},{"t":"2019-11-11T00:00","s":"a","v":1.85},{"t":"2019-10-17T02:00","s":"a","v":0.31},{"t":"2019-11-01T12:00","s":"a","v":0.12},{"t":"2019-10-12T17:00","s":"a","v":0.1},{"t":"2019-10-26T17:00","s":"a","v":0.1},{"t":"2019-11-10T12:00","s":"a","v":0.1},{"t":"2019-11-24T14:00","s":"a","v":0.15},{"t":"2019-12-04T17:00","s":"a","v":0.1},{"t":"2019-12-19T07:00","s":"a","v":0.12},
{"t":"2019-12-31T00:00","s":"a","v":2.02},{"t":"2019-12-31T10:00","s":"a","v":1.53},{"t":"2020-01-05T02:00","s":"a","v":2.23},{"t":"2020-01-05T10:00","s":"a","v":1.54},{"t":"2020-01-05T17:00","s":"a","v":1.33},{"t":"2019-12-17T12:00","s":"a","v":1.45},{"t":"2019-12-17T20:00","s":"a","v":1.45},{"t":"2019-12-25T02:00","s":"a","v":1.6},{"t":"2019-12-26T10:00","s":"a","v":1.38},{"t":"2019-12-10T22:00","s":"a","v":2.62},{"t":"2019-12-13T22:00","s":"a","v":2.38},
{"t":"2019-10-21T19:00","s":"b","v":5.05},{"t":"2019-10-10T00:00","s":"b","v":3.77},{"t":"2019-10-08T17:00","s":"b","v":2.57},{"t":"2019-10-20T02:00","s":"b","v":2.62},{"t":"2019-10-25T14:00","s":"b","v":1.77},{"t":"2019-11-03T22:00","s":"b","v":1.58},{"t":"2019-11-09T14:00","s":"b","v":2.34},{"t":"2019-11-16T22:00","s":"b","v":2.55},{"t":"2019-11-18T12:00","s":"b","v":3.26},{"t":"2019-11-21T12:00","s":"b","v":4.07},{"t":"2019-12-23T10:00","s":"b","v":4.14},{"t":"2019-12-24T07:00","s":"b","v":3.26},
{"t":"2019-11-25T10:00","s":"b","v":2.5},{"t":"2019-11-26T05:00","s":"b","v":2.38},{"t":"2019-12-07T10:00","s":"b","v":2.6},{"t":"2019-11-19T12:00","s":"b","v":2.08},{"t":"2019-12-01T10:00","s":"b","v":1.96},{"t":"2019-12-22T07:00","s":"b","v":2.26},{"t":"2019-12-31T14:00","s":"b","v":1.77},{"t":"2020-01-05T17:00","s":"b","v":2.17},{"t":"2020-01-04T10:00","s":"b","v":0.4},{"t":"2019-10-23T10:00","s":"b","v":0.19},{"t":"2019-12-11T10:00","s":"b","v":2.81},{"t":"2019-12-15T03:00","s":"b","v":2.55},{"t":"2019-12-20T03:00","s":"b","v":1.72},{"t":"2019-12-21T08:00","s":"b","v":1.57},{"t":"2019-12-24T18:00","s":"b","v":1.57},
{"t":"2019-11-01T22:00","s":"c","v":7.76},{"t":"2019-11-12T22:00","s":"c","v":7.74},{"t":"2019-10-12T02:00","s":"c","v":4.48},{"t":"2019-10-09T19:00","s":"c","v":3.96},{"t":"2019-10-12T19:00","s":"c","v":3.46},{"t":"2019-11-27T17:00","s":"c","v":3.37},{"t":"2019-10-08T22:00","s":"c","v":0.53},{"t":"2019-10-16T02:00","s":"c","v":0.44},{"t":"2019-11-13T07:00","s":"c","v":0.4},{"t":"2019-11-18T17:00","s":"c","v":0.17},{"t":"2019-12-02T22:00","s":"c","v":0.61},{"t":"2019-12-07T05:00","s":"c","v":0.59},{"t":"2020-01-01T00:00","s":"c","v":0.44},{"t":"2019-12-23T07:00","s":"c","v":0.51},
{"t":"2019-10-12T17:00","s":"d","v":3.02},{"t":"2019-10-15T05:00","s":"d","v":2.77},{"t":"2019-10-10T14:00","s":"d","v":2.24},{"t":"2019-10-10T17:00","s":"d","v":2.06},{"t":"2019-10-15T12:00","s":"d","v":2.02},{"t":"2019-10-13T17:00","s":"d","v":1.76},{"t":"2019-10-09T12:00","s":"d","v":0.47},{"t":"2019-10-18T14:00","s":"d","v":0.44},{"t":"2019-10-25T14:00","s":"d","v":0.59},{"t":"2019-10-26T12:00","s":"d","v":0.59},{"t":"2019-10-28T02:00","s":"d","v":0.3},{"t":"2019-11-01T22:00","s":"d","v":0.4},{"t":"2019-11-12T07:00","s":"d","v":0.54},{"t":"2019-11-13T14:00","s":"d","v":0.54},{"t":"2019-11-14T14:00","s":"d","v":0.31},
{"t":"2019-11-16T22:00","s":"d","v":0.66},{"t":"2019-11-21T00:00","s":"d","v":0.42},{"t":"2019-11-23T12:00","s":"d","v":0.65},{"t":"2019-11-25T10:00","s":"d","v":0.6},{"t":"2019-11-26T07:00","s":"d","v":0.7},{"t":"2019-12-01T12:00","s":"d","v":0.51},{"t":"2019-12-02T07:00","s":"d","v":0.29},{"t":"2019-12-05T07:00","s":"d","v":0.57},{"t":"2019-12-19T02:00","s":"d","v":0.59},{"t":"2019-12-19T10:00","s":"d","v":0.47},{"t":"2019-12-20T07:00","s":"d","v":0.32},{"t":"2019-12-21T10:00","s":"d","v":0.32},{"t":"2019-12-27T05:00","s":"d","v":0.38},{"t":"2020-01-04T10:00","s":"d","v":0.35},{"t":"2019-12-22T14:00","s":"d","v":0.49}
],
"ph":[
{"t":"2019-10-08T10:00","s":"e","v":6.84},{"t":"2019-10-09T10:00","s":"e","v":6.88},{"t":"2019-10-10T10:00","s":"e","v":6.71},{"t":"2019-10-11T10:00","s":"e","v":6.73},{"t":"2019-10-12T10:00","s":"e","v":6.88},{"t":"2019-10-13T10:00","s":"e","v":6.99},{"t":"2019-10-14T10:00","s":"e","v":6.95},{"t":"2019-10-15T10:00","s":"e","v":6.90},{"t":"2019-10-16T10:00","s":"e","v":6.73},{"t":"2019-10-17T10:00","s":"e","v":6.82},
{"t":"2019-10-18T10:00","s":"e","v":6.94},{"t":"2019-10-19T10:00","s":"e","v":6.82},{"t":"2019-10-20T10:00","s":"e","v":6.86},{"t":"2019-10-21T10:00","s":"e","v":6.79},{"t":"2019-10-22T10:00","s":"e","v":6.89},{"t":"2019-10-23T10:00","s":"e","v":6.79},{"t":"2019-10-24T10:00","s":"e","v":6.84},{"t":"2019-10-25T10:00","s":"e","v":6.95},{"t":"2019-10-26T10:00","s":"e","v":6.82},{"t":"2019-10-27T10:00","s":"e","v":6.71},
{"t":"2019-10-28T10:00","s":"e","v":6.85},{"t":"2019-10-29T10:00","s":"e","v":6.85},{"t":"2019-10-30T10:00","s":"e","v":6.89},{"t":"2019-10-31T10:00","s":"e","v":6.93},{"t":"2019-11-01T10:00","s":"e","v":6.86},{"t":"2019-11-02T10:00","s":"e","v":6.69},{"t":"2019-11-03T10:00","s":"e","v":6.59},{"t":"2019-11-04T10:00","s":"e","v":6.37},{"t":"2019-11-05T10:00","s":"e","v":6.52},{"t":"2019-11-06T10:00","s":"e","v":6.73},
{"t":"2019-11-07T10:00","s":"e","v":6.67},{"t":"2019-11-08T10:00","s":"e","v":6.71},{"t":"2019-11-09T10:00","s":"e","v":6.79},{"t":"2019-11-10T10:00","s":"e","v":6.82},{"t":"2019-11-11T10:00","s":"e","v":6.75},{"t":"2019-11-12T10:00","s":"e","v":6.79},{"t":"2019-11-13T10:00","s":"e","v":6.82},{"t":"2019-11-14T10:00","s":"e","v":6.73},{"t":"2019-11-15T10:00","s":"e","v":6.86},{"t":"2019-11-16T10:00","s":"e","v":6.95},
{"t":"2019-11-17T10:00","s":"e","v":6.84},{"t":"2019-11-18T10:00","s":"e","v":6.95},{"t":"2019-11-19T10:00","s":"e","v":6.76},{"t":"2019-11-20T10:00","s":"e","v":6.54},{"t":"2019-11-21T10:00","s":"e","v":6.56},{"t":"2019-11-22T10:00","s":"e","v":6.74},{"t":"2019-11-23T10:00","s":"e","v":6.74},{"t":"2019-11-24T10:00","s":"e","v":6.90},{"t":"2019-11-25T10:00","s":"e","v":6.82},{"t":"2019-11-26T10:00","s":"e","v":6.78},
{"t":"2019-11-27T10:00","s":"e","v":6.67},{"t":"2019-11-28T10:00","s":"e","v":6.86},{"t":"2019-11-29T10:00","s":"e","v":6.78},{"t":"2019-11-30T10:00","s":"e","v":6.93},{"t":"2019-12-01T10:00","s":"e","v":6.59},{"t":"2019-12-02T10:00","s":"e","v":6.58},{"t":"2019-12-03T10:00","s":"e","v":6.73},{"t":"2019-12-04T10:00","s":"e","v":6.65},{"t":"2019-12-05T10:00","s":"e","v":6.86},{"t":"2019-12-06T10:00","s":"e","v":6.95},
{"t":"2019-12-07T10:00","s":"e","v":7.03},{"t":"2019-12-08T10:00","s":"e","v":7.52},{"t":"2019-12-09T10:00","s":"e","v":7.14},{"t":"2019-12-10T10:00","s":"e","v":7.13},{"t":"2019-12-11T10:00","s":"e","v":7.19},{"t":"2019-12-12T10:00","s":"e","v":6.84},{"t":"2019-12-13T10:00","s":"e","v":6.80},{"t":"2019-12-14T10:00","s":"e","v":6.73},{"t":"2019-12-15T10:00","s":"e","v":6.90},{"t":"2019-12-16T10:00","s":"e","v":6.73},
{"t":"2019-12-17T10:00","s":"e","v":6.71},{"t":"2019-12-18T10:00","s":"e","v":6.88},{"t":"2019-12-19T10:00","s":"e","v":6.93},{"t":"2019-12-20T10:00","s":"e","v":6.85},{"t":"2019-12-21T10:00","s":"e","v":7.03},{"t":"2019-12-22T10:00","s":"e","v":6.85},{"t":"2019-12-23T10:00","s":"e","v":6.80},{"t":"2019-12-24T10:00","s":"e","v":6.84},{"t":"2019-12-25T10:00","s":"e","v":6.78},{"t":"2019-12-26T10:00","s":"e","v":6.88},
{"t":"2019-12-27T10:00","s":"e","v":6.93},{"t":"2019-12-28T10:00","s":"e","v":6.74},{"t":"2019-12-29T10:00","s":"e","v":6.82},{"t":"2019-12-30T10:00","s":"e","v":6.97},{"t":"2019-12-31T10:00","s":"e","v":6.99},{"t":"2020-01-01T10:00","s":"e","v":6.40},{"t":"2020-01-02T10:00","s":"e","v":6.67},{"t":"2020-01-03T10:00","s":"e","v":6.84},{"t":"2020-01-04T10:00","s":"e","v":6.95},{"t":"2020-01-05T10:00","s":"e","v":6.50}
]
},
"encoding":{
"x":{"field":"t","type":"temporal","scale":{"domain":[{"year":2019,"month":10,"date":2},{"year":2020,"month":1,"date":10}]},
"axis":{"values":[{"year":2019,"month":10,"date":2},{"year":2019,"month":10,"date":22},{"year":2019,"month":11,"date":11},{"year":2019,"month":12,"date":1},{"year":2019,"month":12,"date":21},{"year":2020,"month":1,"date":10}],"format":"%Y/%-m/%-d","title":"Date","labelOverlap":false,"labelFlush":false,"labelBound":false}},
"y":{"field":"v","type":"quantitative","scale":{"domain":[0,8],"nice":false},"axis":{"values":[0,1,2,3,4,5,6,7,8],"title":"Permeability LMH/Kpa"}},
"color":{"field":"s","type":"nominal","scale":{"domain":["a","b","c","d","e"],"range":["#404040","#7f7f7f","#a6a6a6","#d9d9d9","#000000"]},
"legend":{"title":null,"labelExpr":"datum.label == 'a' ? 'Train 1 Permeability' : datum.label == 'b' ? 'Train 2 Permeability' : datum.label == 'c' ? 'Train 3 Permeability' : datum.label == 'd' ? 'Train 4 Permeability' : 'Feed PH'"}},
"order":{"field":"s","type":"ordinal"}
},
"layer":[
{"data":{"name":"perm"},"transform":[{"fold":["a","b","c","d"],"as":["s","v"]}],"mark":{"type":"circle","size":62,"opacity":1,"clip":false}},
{"data":{"name":"out"},"mark":{"type":"circle","size":62,"opacity":1,"clip":false}},
{"data":{"name":"ph"},"mark":{"type":"circle","size":62,"opacity":1,"clip":false}}
]
}
